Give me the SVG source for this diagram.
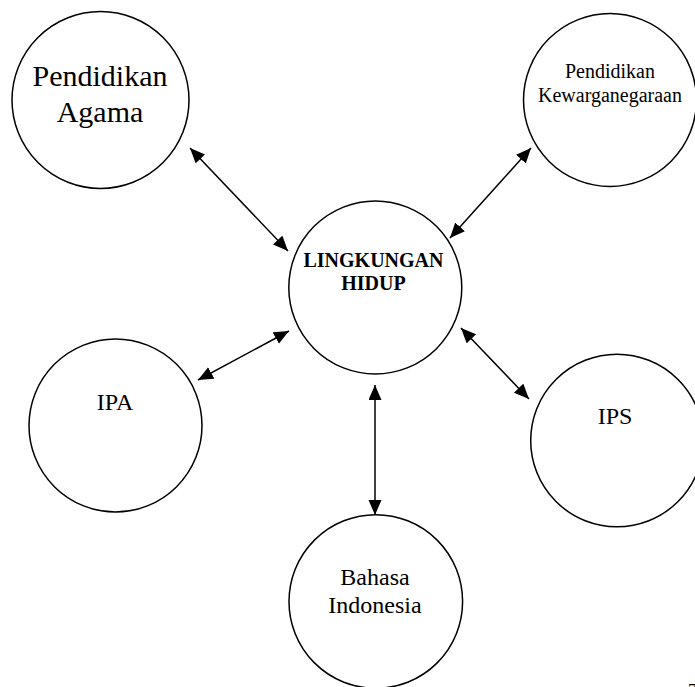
<svg xmlns="http://www.w3.org/2000/svg" width="695" height="687" viewBox="0 0 695 687">
<style>
.c{fill:#fff;stroke:#000;stroke-width:1.5}
.t{font-family:"Liberation Serif","Times New Roman",serif;fill:#000;text-anchor:middle}
.b{font-weight:bold}
.ln{stroke:#000;stroke-width:1.5;fill:none;marker-start:url(#ah);marker-end:url(#ah)}
</style>
<defs>
<marker id="ah" markerUnits="userSpaceOnUse" markerWidth="16" markerHeight="14" refX="15" refY="6.5" orient="auto-start-reverse" viewBox="0 0 16 14">
<path d="M0,0 L15,6.5 L0,13 z" fill="#000"/>
</marker>
</defs>
<rect width="695" height="687" fill="#fff"/>
<g id="connectors">
<line class="ln" x1="190" y1="148" x2="288" y2="251"/>
<line class="ln" x1="531" y1="148" x2="450" y2="238"/>
<line class="ln" x1="198" y1="380" x2="289" y2="331"/>
<line class="ln" x1="461" y1="328" x2="529" y2="399"/>
<line class="ln" x1="375" y1="385" x2="375" y2="515"/>
</g>
<g id="agama">
<circle class="c" cx="100.5" cy="100" r="88.5"/>
<text class="t" x="100" y="86" font-size="30">Pendidikan</text>
<text class="t" x="100" y="122" font-size="30">Agama</text>
</g>
<g id="pkn">
<circle class="c" cx="610" cy="100" r="86.5"/>
<text class="t" x="610" y="78" font-size="20">Pendidikan</text>
<text class="t" x="610" y="102" font-size="20">Kewarganegaraan</text>
</g>
<g id="lh">
<circle class="c" cx="375.3" cy="287.5" r="86.5"/>
<text class="t b" x="373.5" y="266.7" font-size="20">LINGKUNGAN</text>
<text class="t b" x="373.5" y="290" font-size="20">HIDUP</text>
</g>
<g id="ipa">
<circle class="c" cx="115.5" cy="425.5" r="86.5"/>
<text class="t" x="115" y="410" font-size="24">IPA</text>
</g>
<g id="ips">
<circle class="c" cx="617" cy="440.5" r="86.3"/>
<text class="t" x="615" y="424" font-size="24">IPS</text>
</g>
<g id="bahasa">
<circle class="c" cx="375.8" cy="601.5" r="86.8"/>
<text class="t" x="375" y="585" font-size="24">Bahasa</text>
<text class="t" x="375" y="613" font-size="24">Indonesia</text>
</g>
<text x="688" y="695" font-family="Liberation Serif,serif" font-size="17">7</text>
</svg>
